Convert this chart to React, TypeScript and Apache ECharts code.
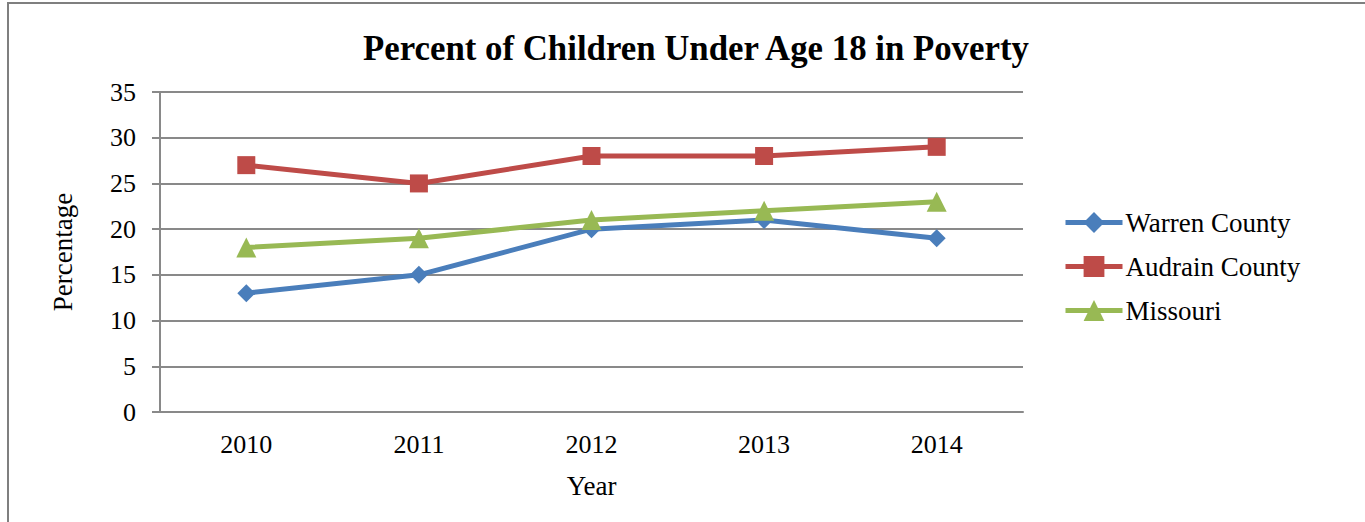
import React, { useEffect, useRef } from "react";
import * as echarts from "echarts";

const years = ["2010", "2011", "2012", "2013", "2014"];
const warren = [13, 15, 20, 21, 19];
const audrain = [27, 25, 28, 28, 29];
const missouri = [18, 19, 21, 22, 23];

const serif = "'Liberation Serif', 'Times New Roman', serif";

export default function App() {
  const ref = useRef<HTMLDivElement>(null);
  useEffect(() => {
    const chart = echarts.init(ref.current!, null, { renderer: "svg" });
    chart.setOption({
      animation: false,
      backgroundColor: "#ffffff",
      title: {
        text: "Percent of Children Under Age 18 in Poverty",
        left: 358,
        top: 26,
        textStyle: { fontFamily: serif, fontSize: 34.8, fontWeight: "bold", color: "#000" },
      },
      graphic: [
        {
          type: "rect",
          shape: { x: 8, y: 3, width: 1400, height: 600 },
          style: { fill: "none", stroke: "#7f7f7f", lineWidth: 2 },
          silent: true,
        },
      ],
      legend: {
        orient: "vertical",
        left: 1058,
        top: 204,
        itemWidth: 57,
        itemHeight: 26,
        itemGap: 17,
        lineStyle: { width: 5 },
        textStyle: { fontFamily: serif, fontSize: 27, color: "#000", lineHeight: 27, padding: [0, 0, 0, -2] },
        data: ["Warren County", "Audrain County", "Missouri"],
      },
      grid: { left: 160, top: 92, width: 863, height: 320, containLabel: false },
      xAxis: {
        type: "category",
        data: years,
        boundaryGap: true,
        name: "Year",
        nameLocation: "middle",
        nameGap: 60,
        nameTextStyle: { fontFamily: serif, fontSize: 27, color: "#000" },
        axisLine: { show: true, lineStyle: { color: "#898989", width: 2 } },
        axisTick: { show: false },
        axisLabel: { fontFamily: serif, fontSize: 26, color: "#000", margin: 19 },
      },
      yAxis: {
        type: "value",
        min: 0,
        max: 35,
        interval: 5,
        name: "Percentage",
        nameLocation: "middle",
        nameGap: 84,
        nameTextStyle: { fontFamily: serif, fontSize: 27, color: "#000" },
        axisLine: { show: true, lineStyle: { color: "#898989", width: 2 } },
        axisTick: { show: true, length: 8, lineStyle: { color: "#898989", width: 2 } },
        axisLabel: { fontFamily: serif, fontSize: 26, color: "#000", margin: 24 },
        splitLine: { show: true, lineStyle: { color: "#898989", width: 2 } },
      },
      series: [
        {
          name: "Warren County",
          type: "line",
          data: warren,
          symbol: "diamond",
          symbolSize: 18,
          color: "#4a7ebb",
          lineStyle: { width: 5, color: "#4a7ebb" },
          itemStyle: { color: "#4a7ebb" },
        },
        {
          name: "Audrain County",
          type: "line",
          data: audrain,
          symbol: "rect",
          symbolSize: 18,
          color: "#be4b48",
          lineStyle: { width: 5, color: "#be4b48" },
          itemStyle: { color: "#be4b48" },
        },
        {
          name: "Missouri",
          type: "line",
          data: missouri,
          symbol: "triangle",
          symbolSize: 20,
          color: "#98b954",
          lineStyle: { width: 5, color: "#98b954" },
          itemStyle: { color: "#98b954" },
        },
      ],
    });
    return () => chart.dispose();
  }, []);
  return (
    <div
      ref={ref}
      style={{ position: "absolute", left: 0, top: 0, width: 1365, height: 522 }}
    />
  );
}
